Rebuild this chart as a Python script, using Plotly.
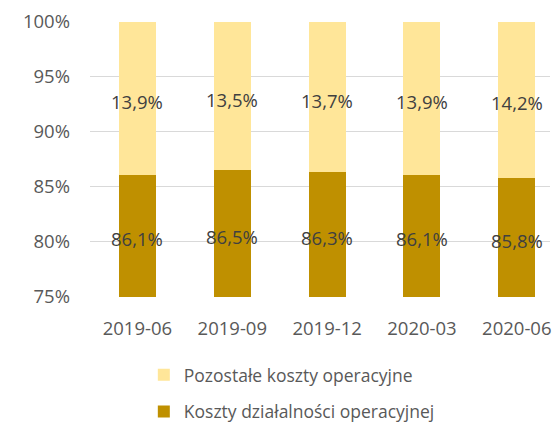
import plotly.graph_objects as go

periods = ["2019-06", "2019-09", "2019-12", "2020-03", "2020-06"]
koszty_dzialalnosci = [86.1, 86.5, 86.3, 86.1, 85.8]
pozostale_koszty = [13.9, 13.5, 13.7, 13.9, 14.2]
y_ticks = [75, 80, 85, 90, 95, 100]
Y_MIN, Y_MAX = 0.75, 1.0

FONT = "Open Sans"
TEXT_COL = "#595959"
LABEL_COL = "#404040"


def pl(v):
    return f"{v:.1f}".replace(".", ",") + "%"


fig = go.Figure()
fig.add_trace(go.Bar(
    x=periods, y=[v / 100 for v in koszty_dzialalnosci],
    name="Koszty działalności operacyjnej",
    marker=dict(color="#BF9000", line=dict(width=0)),
    textposition="none", hoverinfo="x+y",
    legendgroup="a", legendrank=2, width=0.39,
))
fig.add_trace(go.Bar(
    x=periods, y=[v / 100 for v in pozostale_koszty],
    name="Pozostałe koszty operacyjne",
    marker=dict(color="#FFE699", line=dict(width=0)),
    textposition="none", hoverinfo="x+y",
    legendgroup="b", legendrank=1, width=0.39,
))

# value labels centred on the visible part of each segment
for p, k, r in zip(periods, koszty_dzialalnosci, pozostale_koszty):
    low = max(Y_MIN, 0.0)
    fig.add_annotation(x=p, y=(low + k / 100) / 2, text=pl(k), showarrow=False,
                       yshift=-3, font=dict(family=FONT, size=18.5, color=LABEL_COL))
    fig.add_annotation(x=p, y=k / 100 + r / 200, text=pl(r), showarrow=False,
                       yshift=-3, font=dict(family=FONT, size=18.5, color=LABEL_COL))

fig.update_layout(
    barmode="stack",
    width=552, height=426,
    margin=dict(l=90, r=2, t=21, b=129, autoexpand=False),
    paper_bgcolor="white", plot_bgcolor="white",
    font=dict(family=FONT, size=18, color=TEXT_COL),
    showlegend=True,
    legend=dict(
        orientation="v", x=0.117, xanchor="left", y=-0.217, yanchor="top",
        traceorder="grouped", tracegroupgap=11,
        font=dict(family=FONT, size=17.5, color=TEXT_COL),
    ),
)
fig.update_xaxes(
    type="category", range=[-0.5, 4.35], showgrid=False, showline=False,
    automargin=False,
    ticks="outside", ticklen=15, tickcolor="rgba(0,0,0,0)",
    tickfont=dict(family=FONT, size=18.5, color=TEXT_COL),
)
fig.update_yaxes(
    range=[Y_MIN - 0.0005, Y_MAX + 0.0008], tickvals=[t / 100 for t in y_ticks],
    tickformat=".0%", showgrid=True, gridcolor="#D9D9D9", gridwidth=1.3,
    zeroline=False, showline=False, ticklabelstandoff=19, automargin=False,
    tickfont=dict(family=FONT, size=18.5, color=TEXT_COL),
)

fig.write_html("out.html")
